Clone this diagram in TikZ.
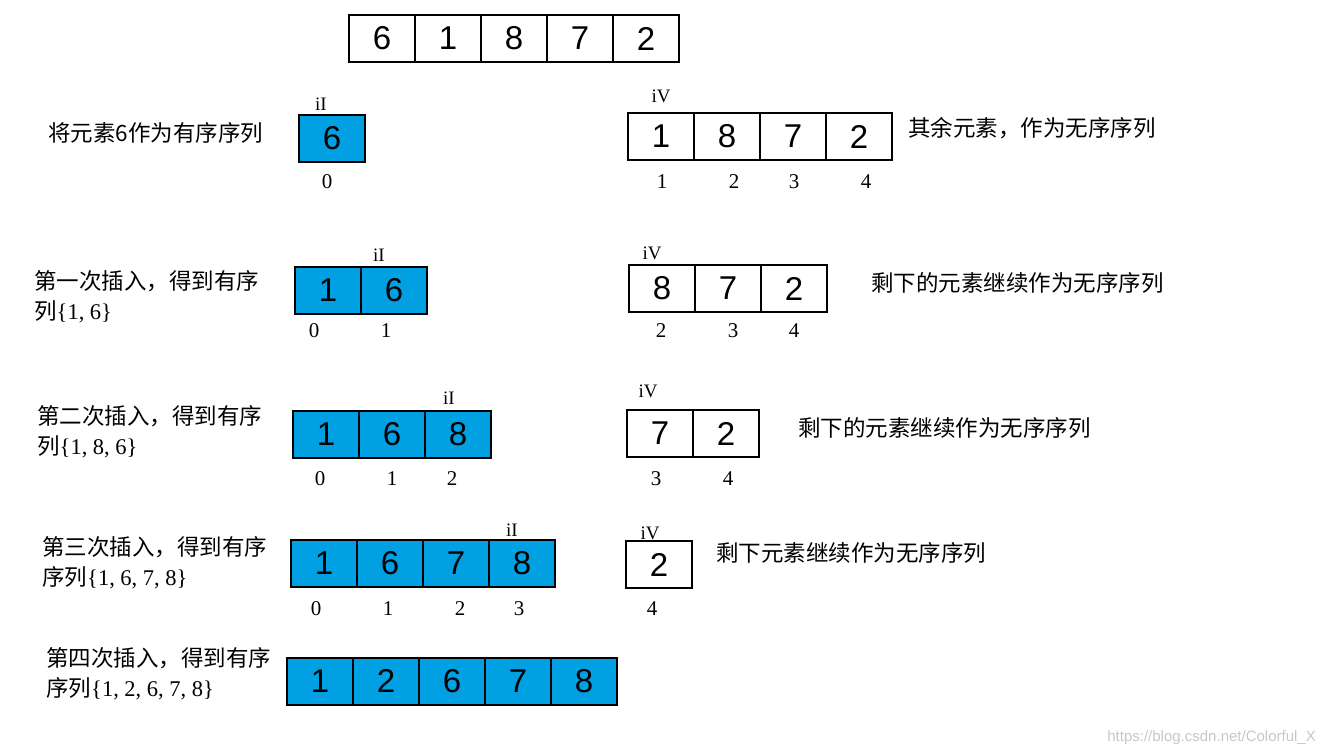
\documentclass[tikz,border=0pt]{standalone}
\usepackage{fontspec}
\setmainfont{Liberation Serif}
\newfontfamily\cjk{Noto Sans CJK SC}
\newfontfamily\arial{Liberation Sans}
\definecolor{sortblue}{RGB}{0,160,227}

\tikzset{
  cell/.style={draw,line width=2pt,minimum width=66pt,minimum height=47pt,
    inner sep=0pt,font=\arial\fontsize{33}{33}\selectfont},
  done/.style={cell,fill=sortblue},
  idx/.style={font=\fontsize{21}{21}\selectfont,inner sep=0pt},
  ptr/.style={font=\fontsize{19}{19}\selectfont,inner sep=0pt},
  note/.style={font=\cjk\fontsize{22.5}{30}\selectfont,align=left,anchor=west,inner sep=0pt}
}

\begin{document}
\begin{tikzpicture}[x=1pt,y=-1pt]
\useasboundingbox (0,0) rectangle (1326,754);

% original array
\foreach \v [count=\k from 0] in {6,1,8,7,2}
  \node[cell] (a\k) at (382+66*\k,38.5) {\v};

% step 0
\node[note] (t1) at (48,133) {将元素6作为有序序列};
\node[done] (o1-0) at (332,138.5) {6};
\foreach \v [count=\k from 0] in {1,8,7,2}
  \node[cell] (u1-\k) at (661+66*\k,136.5) {\v};
\node[note] (n1) at (908,128) {其余元素，作为无序序列};
\node[ptr] (i1) at (321,104) {iI};
\node[ptr] (v1) at (661,96) {iV};
\foreach \n/\x in {0/327,1/662,2/734,3/794,4/866}
  \node[idx] (k1-\n) at (\x,182) {\n};

% step 1
\node[note] (t2) at (34,297) {第一次插入，得到有序\\列{\rmfamily\{1, 6\}}};
\foreach \v [count=\k from 0] in {1,6}
  \node[done] (o2-\k) at (328+66*\k,290.5) {\v};
\foreach \v [count=\k from 0] in {8,7,2}
  \node[cell] (u2-\k) at (662+66*\k,288.5) {\v};
\node[note] (n2) at (871,283) {剩下的元素继续作为无序序列};
\node[ptr] (i2) at (379,255) {iI};
\node[ptr] (v2) at (652,253) {iV};
\foreach \n/\x in {0/314,1/386,2/661,3/733,4/794}
  \node[idx] (k2-\n) at (\x,331) {\n};

% step 2
\node[note] (t3) at (37,432) {第二次插入，得到有序\\列{\rmfamily\{1, 8, 6\}}};
\foreach \v [count=\k from 0] in {1,6,8}
  \node[done] (o3-\k) at (326+66*\k,434.5) {\v};
\foreach \v [count=\k from 0] in {7,2}
  \node[cell] (u3-\k) at (660+66*\k,433.5) {\v};
\node[note] (n3) at (798,428) {剩下的元素继续作为无序序列};
\node[ptr] (i3) at (449,398) {iI};
\node[ptr] (v3) at (648,391) {iV};
\foreach \n/\x in {0/320,1/392,2/452,3/656,4/728}
  \node[idx] (k3-\n) at (\x,479) {\n};

% step 3
\node[note] (t4) at (42,563) {第三次插入，得到有序\\序列{\rmfamily\{1, 6, 7, 8\}}};
\foreach \v [count=\k from 0] in {1,6,7,8}
  \node[done] (o4-\k) at (324+66*\k,563.5) {\v};
\node[cell] (u4-0) at (659,564.5) {2};
\node[note] (n4) at (716,553) {剩下元素继续作为无序序列};
\node[ptr] (i4) at (512,530) {iI};
\node[ptr] (v4) at (650,533) {iV};
\foreach \n/\x in {0/316,1/388,2/460,3/519,4/652}
  \node[idx] (k4-\n) at (\x,609) {\n};

% step 4
\node[note] (t5) at (46,674) {第四次插入，得到有序\\序列{\rmfamily\{1, 2, 6, 7, 8\}}};
\foreach \v [count=\k from 0] in {1,2,6,7,8}
  \node[done] (o5-\k) at (320+66*\k,681) {\v};

\node[anchor=east,inner sep=0pt,text=black!22,font=\arial\fontsize{15}{15}\selectfont]
  (wm) at (1316,738) {https://blog.csdn.net/Colorful\_X};
\end{tikzpicture}
\end{document}
